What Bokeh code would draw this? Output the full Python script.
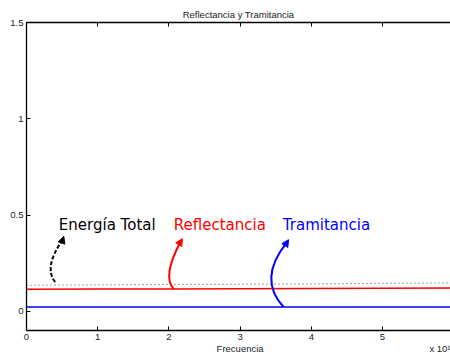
from bokeh.plotting import figure
from bokeh.models import Range1d, LinearAxis, Label, Arrow, NormalHead, FixedTicker
from bokeh.embed import file_html
from bokeh.resources import INLINE

# ---- data ----
freq = [0, 1, 2, 3, 4, 5, 6]
reflectancia = [0.114, 0.115, 0.116, 0.117, 0.118, 0.120, 0.121]
tramitancia = [0.022, 0.022, 0.022, 0.022, 0.022, 0.022, 0.022]
energia_total = [0.135, 0.137, 0.139, 0.140, 0.142, 0.145, 0.147]

x_ticks = [0, 1, 2, 3, 4, 5]
y_ticks = [0, 0.5, 1, 1.5]
y_tick_labels = ["0", "0.5", "1", "1.5"]

title_text = "Reflectancia y Tramitancia"
xlabel_text = "Frecuencia"
exp_text = "x 10\u00b9"

ann_labels = ["Energía Total", "Reflectancia", "Tramitancia"]
ann_colors = ["black", "#ff0000", "#0000ff"]
ann_dash = ["4 2", "solid", "solid"]
label_x = [0.454, 2.069, 3.60]
label_y = [0.449, 0.449, 0.446]
curve_x0 = [0.403, 2.07, 3.61]
curve_y0 = [0.152, 0.114, 0.022]
curve_cx = [0.236, 1.90, 3.245]
curve_cy = [0.227, 0.178, 0.169]
curve_x1 = [0.508, 2.165, 3.655]
curve_y1 = [0.372, 0.362, 0.357]
tip_x = [0.524, 2.19, 3.68]
tip_y = [0.389, 0.377, 0.372]

TICK_FONT = "Liberation Sans"
TICK_SIZE = "9.5px"
TXT_COLOR = "#222222"

p = figure(width=450, height=357, output_backend="svg", toolbar_location=None,
           x_range=Range1d(0, 5.955), y_range=Range1d(-0.1, 1.5),
           min_border_left=26, min_border_right=0, min_border_top=22, min_border_bottom=27,
           x_axis_location=None, y_axis_location=None)
p.outline_line_color = None
p.grid.visible = False
p.background_fill_color = "white"
p.border_fill_color = "white"

p.title.text = title_text
p.title.align = "center"
p.title.text_font = TICK_FONT
p.title.text_font_size = TICK_SIZE
p.title.text_font_style = "normal"
p.title.text_color = TXT_COLOR
p.title.standoff = 5

def style_axis(ax, labels=True):
    ax.major_tick_in = 4
    ax.major_tick_out = 0
    ax.minor_tick_line_color = None
    ax.axis_line_width = 1.3
    ax.axis_line_color = "black"
    ax.major_tick_line_color = "black"
    ax.major_label_text_font = TICK_FONT
    ax.major_label_text_color = TXT_COLOR
    if labels:
        ax.major_label_text_font_size = TICK_SIZE
    else:
        ax.major_label_text_font_size = "0px"
        ax.major_label_standoff = 0

xb = LinearAxis(ticker=FixedTicker(ticks=x_ticks))
style_axis(xb)
xb.major_label_standoff = 3
p.add_layout(xb, "below")

# second strip below the tick labels: x label and the exponent note
xlab_pos = [3.0, 5.86]
xlab_txt = [xlabel_text, exp_text]
xb2 = LinearAxis(ticker=FixedTicker(ticks=xlab_pos))
xb2.axis_line_color = None
xb2.major_tick_line_color = None
xb2.minor_tick_line_color = None
xb2.major_tick_in = 0
xb2.major_tick_out = 0
xb2.major_label_standoff = 0
xb2.major_label_text_font = TICK_FONT
xb2.major_label_text_font_size = TICK_SIZE
xb2.major_label_text_color = TXT_COLOR
xb2.major_label_overrides = {t: s for t, s in zip(xlab_pos, xlab_txt)}
p.add_layout(xb2, "below")

xt = LinearAxis(ticker=FixedTicker(ticks=x_ticks))
style_axis(xt, labels=False)
p.add_layout(xt, "above")

yl = LinearAxis(ticker=FixedTicker(ticks=y_ticks))
style_axis(yl)
yl.major_label_standoff = 3
yl.major_label_overrides = {t: s for t, s in zip(y_ticks, y_tick_labels)}
p.add_layout(yl, "left")

# series
p.line(freq, energia_total, line_color="#444444", line_width=1, line_dash="1 3")
p.line(freq, reflectancia, line_color="#ff0000", line_width=1.5)
p.line(freq, tramitancia, line_color="#0000ff", line_width=1.5)

# annotations
for i in range(3):
    p.quadratic(x0=[curve_x0[i]], y0=[curve_y0[i]], x1=[curve_x1[i]], y1=[curve_y1[i]],
                cx=[curve_cx[i]], cy=[curve_cy[i]], line_color=ann_colors[i],
                line_width=2, line_dash=ann_dash[i])
    p.add_layout(Arrow(end=NormalHead(size=7, fill_color=ann_colors[i], line_color=ann_colors[i], line_width=1),
                       x_start=curve_x1[i], y_start=curve_y1[i], x_end=tip_x[i], y_end=tip_y[i],
                       line_color=ann_colors[i], line_width=2))
    p.add_layout(Label(x=label_x[i], y=label_y[i], text=ann_labels[i], text_color=ann_colors[i],
                       text_font="DejaVu Sans", text_font_size="15px", text_baseline="alphabetic"))

open("out.html", "w").write(file_html(p, INLINE))
